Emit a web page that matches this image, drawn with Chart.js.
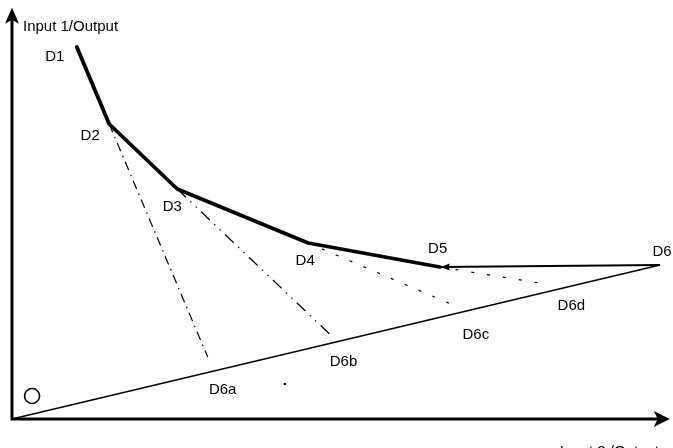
<!DOCTYPE html>
<html>
<head>
<meta charset="utf-8">
<script src="https://cdn.jsdelivr.net/npm/chart.js@4/dist/chart.umd.min.js"></script>
<style>
html,body{margin:0;padding:0;background:#fff;}
#wrap{width:673px;height:448px;}
</style>
</head>
<body>
<div id="wrap"><canvas id="c" width="673" height="448"></canvas></div>
<script>
// ---- data (Input 2/Output on x, Input 1/Output on y) ----
const frontierNames = ["D1", "D2", "D3", "D4", "D5"];
const frontierX = [1.00, 1.50, 2.55, 4.57, 6.60];
const frontierY = [9.30, 7.375, 5.75, 4.40, 3.80];
const d6 = { name: "D6", x: 10.0, y: 3.85 };
const projNames = ["D6a", "D6b", "D6c", "D6d"];
const projFromIdx = [1, 2, 3, 4];          // starts at D2, D3, D4, D5
const projEndX = [3.02, 4.90, 6.91, 8.23];
const projEndY = [1.55, 2.125, 2.78, 3.375];
const strayX = [4.21];
const strayY = [0.875];
const originMarkX = [0.31];
const originMarkY = [0.575];
const yAxisTitle = "Input 1/Output";
const xAxisTitle = "Input 2 /Output";
const axisXMax = 10.15, axisYMax = 10.28;

// ---- styles ----
const FONT = '15px "Liberation Sans", Arial, sans-serif';
const TITLE_FONT = '15px "Liberation Sans", Arial, sans-serif';
const nameOffsets = { D1: [-22, 10], D2: [-19, 12], D3: [-5, 18], D4: [-3, 18], D5: [-2, -18], D6: [2, -13] };
const projOffsets = [[15, 33], [14, 28], [16, 27], [26, 22]];
const projDash = [[9, 5, 1.5, 5], [12, 6, 1.5, 6, 1.5, 6], [3, 12], [3, 13]];

const pts = (xs, ys) => xs.map((x, i) => ({ x: x, y: ys[i] }));
const frontierPts = pts(frontierX, frontierY);

const datasets = [
  { label: "frontier", data: frontierPts, borderColor: "#000", borderWidth: 3.8, pointRadius: 0, showLine: true, borderJoinStyle: "round", borderCapStyle: "round" },
  { label: "D6-D5", data: [{ x: d6.x, y: d6.y }, frontierPts[4]], borderColor: "#000", borderWidth: 2, pointRadius: 0, showLine: true },
  { label: "ray", data: [{ x: 0, y: 0 }, { x: d6.x, y: d6.y }], borderColor: "#000", borderWidth: 1.5, pointRadius: 0, showLine: true }
];
projNames.forEach((n, i) => {
  datasets.push({ label: n, data: [frontierPts[projFromIdx[i]], { x: projEndX[i], y: projEndY[i] }], borderColor: "#000", borderWidth: 1.2, borderDash: projDash[i], pointRadius: 0, showLine: true });
});
datasets.push({ label: "stray", data: pts(strayX, strayY), pointRadius: 1.3, backgroundColor: "#000", borderWidth: 0, showLine: false });
datasets.push({ label: "O", data: pts(originMarkX, originMarkY), pointRadius: 7.5, pointStyle: "circle", backgroundColor: "rgba(0,0,0,0)", borderColor: "#000", borderWidth: 1.6, showLine: false });

function arrowHead(ctx, tx, ty, dx, dy, len, half, notch) {
  const L = Math.hypot(dx, dy); const ux = dx / L, uy = dy / L; const px = -uy, py = ux;
  const bx = tx - ux * len, by = ty - uy * len;
  ctx.beginPath();
  ctx.moveTo(tx, ty);
  ctx.lineTo(bx + px * half, by + py * half);
  ctx.lineTo(tx - ux * len * (1 - notch), ty - uy * len * (1 - notch));
  ctx.lineTo(bx - px * half, by - py * half);
  ctx.closePath();
  ctx.fill();
}

const deco = {
  id: "deco",
  afterDatasetsDraw(chart) {
    const ctx = chart.ctx, sx = chart.scales.x, sy = chart.scales.y;
    const X = v => sx.getPixelForValue(v), Y = v => sy.getPixelForValue(v);
    ctx.save();
    ctx.fillStyle = "#000"; ctx.strokeStyle = "#000";
    // axes
    ctx.lineWidth = 3; ctx.lineCap = "butt";
    ctx.beginPath();
    ctx.moveTo(X(0), Y(axisYMax) + 10); ctx.lineTo(X(0), Y(0)); ctx.lineTo(X(axisXMax) - 10, Y(0));
    ctx.stroke();
    arrowHead(ctx, X(0), Y(axisYMax), 0, -1, 16, 7, 0.25);
    arrowHead(ctx, X(axisXMax), Y(0), 1, 0, 16, 8, 0.25);
    // arrow at D5
    arrowHead(ctx, X(frontierX[4]) + 1, Y(frontierY[4]), -1, 0, 9, 3.5, 0.1);
    // texts
    ctx.textBaseline = "middle";
    ctx.textAlign = "left";
    ctx.font = TITLE_FONT;
    ctx.fillText(yAxisTitle, X(0) + 11, Y(axisYMax) + 19);
    ctx.fillText(xAxisTitle, X(axisXMax) - 110, Y(0) + 33);
    ctx.font = FONT;
    ctx.textAlign = "center";
    frontierNames.forEach((n, i) => {
      const o = nameOffsets[n];
      ctx.fillText(n, X(frontierX[i]) + o[0], Y(frontierY[i]) + o[1]);
    });
    ctx.fillText(d6.name, X(d6.x) + nameOffsets.D6[0], Y(d6.y) + nameOffsets.D6[1]);
    projNames.forEach((n, i) => {
      ctx.fillText(n, X(projEndX[i]) + projOffsets[i][0], Y(projEndY[i]) + projOffsets[i][1]);
    });
    ctx.restore();
  }
};

new Chart(document.getElementById("c"), {
  type: "scatter",
  data: { datasets: datasets },
  options: {
    responsive: false, animation: false, devicePixelRatio: 1,
    layout: { padding: 0, autoPadding: false },
    plugins: { legend: { display: false }, tooltip: { enabled: false } },
    scales: {
      x: { type: "linear", display: false, min: -0.185, max: 10.2 },
      y: { type: "linear", display: false, min: -0.725, max: 10.475 }
    }
  },
  plugins: [deco]
});
</script>
</body>
</html>
